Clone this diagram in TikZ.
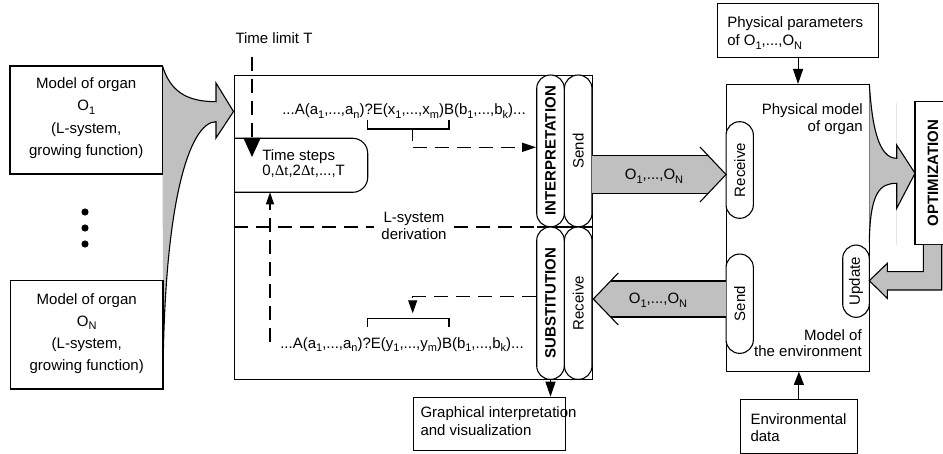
\documentclass[tikz,border=0pt]{standalone}
\usepackage{fontspec}
\setmainfont{Liberation Sans}
\newfontfamily\tmsfont{Liberation Serif}
\usetikzlibrary{arrows.meta}
\definecolor{fillg}{RGB}{192,192,192}
\newcommand\subs[1]{\raisebox{-3.5pt}{\fontsize{11}{11}\selectfont #1}}
\newcommand\dtt{{\tmsfont Δt}}
\begin{document}
\begin{tikzpicture}[x=1pt,y=-1pt,line width=1.1pt,
  txt/.style={font=\fontsize{15}{18}\selectfont, inner sep=0pt},
  box/.style={draw, fill=white, inner sep=0pt},
  pill/.style={draw, fill=white, rounded corners=13.5pt, rotate=90, inner sep=0pt, font=\fontsize{15}{18}\selectfont},
  bpill/.style={pill, font=\bfseries\fontsize{15}{18}\selectfont},
  dsh/.style={dash pattern=on 14pt off 8pt},
  gr/.style={fill=fillg, line join=miter}]
\useasboundingbox (0,0) rectangle (943,454);
\clip (0,0) rectangle (943,454);

% left funnel
\filldraw[gr] (162.5,66) .. controls (170,90) and (185,101.7) .. (216,101.7) -- (216,83) -- (233.5,111.5) -- (216,138) -- (216,121.7) .. controls (190,122) and (163,200) .. (163,389);

% left organ boxes
\node[box, minimum width=152.5, minimum height=108] (o1) at (86.25,120) {};
\node[txt, align=center, anchor=north, font=\fontsize{15}{22.6}\selectfont] (o1t) at (86.25,76.6) {Model of organ\\O\subs{1}\\(L-system,\\growing function)};
\node[box, minimum width=152.5, minimum height=108.3] (on) at (86.75,334.9) {};
\node[txt, align=center, anchor=north, font=\fontsize{15}{22.2}\selectfont] (ont) at (86.75,292.6) {Model of organ\\O\subs{N}\\(L-system,\\growing function)};
\fill (85,212) circle[radius=3.6pt] (85,228) circle[radius=3.6pt] (85,244) circle[radius=3.6pt];

% main box
\node[box, minimum width=358, minimum height=304, anchor=north west] (main) at (234,75) {};
\draw[rounded corners=15pt] (234,138.3) -- (367.7,138.3) -- (367.7,192.3) -- (234,192.3);
\node[txt, align=left, anchor=north west, font=\fontsize{15}{15}\selectfont] (tst) at (261.7,149.3) {Time steps\\0,\dtt,2\dtt,...,T};

\node[txt, anchor=base] (str1) at (404,115) {...A(a\subs{1},...,a\subs{n})?E(x\subs{1},...,x\subs{m})B(b\subs{1},...,b\subs{k})...};
\node[txt, anchor=base] (str2) at (402,348.5) {...A(a\subs{1},...,a\subs{n})?E(y\subs{1},...,y\subs{m})B(b\subs{1},...,b\subs{k})...};
\draw (367.7,120) -- (367.7,129) -- (449,129) -- (449,120);
\draw (412.7,129) -- (412.7,141);
\draw (367.7,326.7) -- (367.7,318.3) -- (449,318.3) -- (449,326.7);

% L-system derivation line
\draw[dsh] (234,227) -- (536.7,227);
\draw (536.7,227) -- (592,227);
\node[txt, fill=white, inner xsep=7pt, inner ysep=1pt, align=center, font=\fontsize{15}{17}\selectfont] (lsys) at (414,226.4) {L-system\\derivation};

% pills of main box
\node[bpill, minimum width=151.7, minimum height=27.6] (interp) at (550.5,150.9) {INTERPRETATION};
\node[pill, minimum width=151.7, minimum height=27.6] (send) at (578.2,150.9) {Send};
\node[bpill, minimum width=152.3, minimum height=27.6] (subst) at (550.5,303.2) {SUBSTITUTION};
\node[pill, minimum width=152.3, minimum height=27.6] (recv) at (578.2,303.2) {Receive};

% dashed arrows in main box
\coordinate (c1) at (412.7,147.3);
\draw[dsh, -{Triangle[length=14pt,width=9pt]}] (c1) -- (interp.north |- c1);
\coordinate (c2) at (412.7,296.7);
\coordinate (c3) at (412.7,313.3);
\draw[dsh, -{Triangle[length=13pt,width=9pt]}] (subst.north |- c2) -- (c2) -- (c3);
\node[txt, anchor=base west] (tlim) at (235,43.3) {Time limit T};
\coordinate (tl1) at (252,57);
\coordinate (tl2) at (252,157);
\draw[dsh, -{Triangle[length=19pt,width=17pt]}] (tl1) -- (tl2);
\coordinate (up1) at (270,341.7);
\coordinate (up2) at (270,192.3);
\draw[dsh, -{Triangle[length=12pt,width=8pt]}] (up1) -- (up2);

% graphical box
\node[box, minimum width=152.3, minimum height=53.3, anchor=north west] (graph) at (412.7,396.7) {};
\node[txt, align=left, anchor=north west, font=\fontsize{15}{18.3}\selectfont] (grapht) at (420,406) {Graphical interpretation\\and visualization};
\draw[-{Triangle[length=15pt,width=10pt]}] (subst.west) -- (subst.west |- graph.north);

% environment box
\node[box, minimum width=143.3, minimum height=286.7, anchor=north west] (env) at (726,84) {};
\node[pill, minimum width=96.6, minimum height=27.3] (erecv) at (739.7,170) {Receive};
\node[pill, minimum width=99.3, minimum height=27.3] (esend) at (739.7,303.7) {Send};
\node[pill, minimum width=72.3, minimum height=26.6] (upd) at (856,281.2) {Update};
\node[txt, align=right, anchor=north east, font=\fontsize{15}{16.7}\selectfont] (pmod) at (863.3,103.3) {Physical model\\of organ};
\node[txt, align=right, anchor=north east, font=\fontsize{15}{16.7}\selectfont] (menv) at (862.3,328.6) {Model of\\the environment};

\node[box, minimum width=161.6, minimum height=53.4, anchor=north west] (phys) at (716.7,3.3) {};
\node[txt, align=left, anchor=north west, font=\fontsize{15}{18.3}\selectfont] (physt) at (726.7,16) {Physical parameters\\of O\subs{1},...,O\subs{N}};
\draw[-{Triangle[length=15pt,width=10pt]}] (phys.south) -- (phys.south |- env.north);

\node[box, minimum width=116.7, minimum height=53.4, anchor=north west] (envd) at (740,399.3) {};
\node[txt, align=left, anchor=north west, font=\fontsize{15}{17.3}\selectfont] (envdt) at (750,412.6) {Environmental\\data};
\draw[-{Triangle[length=13pt,width=10pt]}] (envd.north) -- (envd.north |- env.south);

% gray arrows between main box and environment
\fill[fillg] (592,155.5) -- (708,155.5) -- (726,174.5) -- (708,193.5) -- (592,193.5) -- cycle;
\draw (592,155.5) -- (708,155.5) (592,193.5) -- (708,193.5);
\draw (700,147) -- (726,174.5) -- (700,202);
\node[txt, anchor=base] (a1t) at (654,180) {O\subs{1},...,O\subs{N}};

\fill[fillg] (726,281) -- (610.6,281) -- (593.3,299) -- (610.6,317) -- (726,317) -- cycle;
\draw (726,281) -- (610.6,281) (726,317) -- (610.6,317);
\draw (618.3,273) -- (593.3,299) -- (618.3,325);
\node[txt, anchor=base] (a2t) at (658,304) {O\subs{1},...,O\subs{N}};

% optimization
\draw[black!10, line width=0.6pt] (896.7,103) -- (896.7,245);
\filldraw[gr] (869.3,84) .. controls (872,125) and (878,158.3) .. (896.7,158.3) -- (896.7,145) -- (915,173.3) -- (896.7,208.3) -- (896.7,183.3) .. controls (880,183.3) and (870,192) .. (869.3,243);
\node[draw, fill=white, inner sep=0pt, rotate=90, minimum width=143.3, minimum height=36, font=\bfseries\fontsize{15}{18}\selectfont] (opt) at (933,173.3) {OPTIMIZATION};
\filldraw[gr] (923.3,245) -- (923.3,271.7) -- (887.3,271.7) -- (887.3,263.3) -- (869.3,280.7) -- (887.3,298.3) -- (887.3,290) -- (941.7,290) -- (941.7,245);
\end{tikzpicture}
\end{document}
